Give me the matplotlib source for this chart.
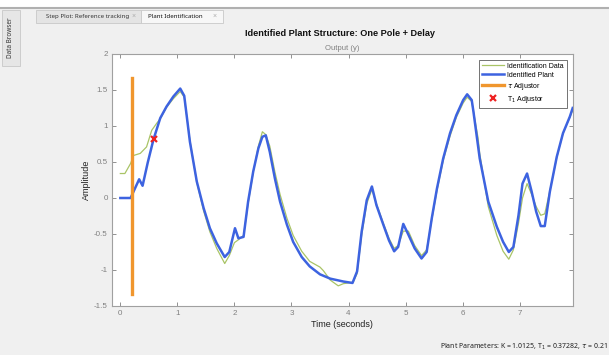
import matplotlib
matplotlib.use("Agg")
import matplotlib.pyplot as plt
from matplotlib.patches import Rectangle
from matplotlib.lines import Line2D

# identified plant response (one pole + delay)
t_plant = [0.0, 0.18, 0.33, 0.39, 0.48, 0.58, 0.70, 0.81, 0.93, 1.05, 1.12, 1.22, 1.34, 1.46,
           1.57, 1.69, 1.83, 1.91, 2.01, 2.07, 2.16, 2.24, 2.33, 2.42, 2.49, 2.55, 2.62, 2.71,
           2.80, 2.92, 3.03, 3.18, 3.32, 3.50, 3.68, 3.91, 4.07, 4.15, 4.23, 4.32, 4.41, 4.49,
           4.61, 4.71, 4.80, 4.87, 4.96, 5.05, 5.16, 5.28, 5.37, 5.46, 5.55, 5.66, 5.78, 5.89,
           6.01, 6.08, 6.16, 6.19, 6.30, 6.45, 6.60, 6.71, 6.81, 6.89, 6.98, 7.05, 7.13, 7.21,
           7.29, 7.37, 7.44, 7.53, 7.65, 7.76, 7.88, 7.93]
y_plant = [0.0, 0.0, 0.26, 0.17, 0.49, 0.81, 1.11, 1.27, 1.41, 1.52, 1.42, 0.78, 0.23, -0.14,
           -0.42, -0.63, -0.82, -0.75, -0.42, -0.56, -0.54, -0.05, 0.37, 0.69, 0.85, 0.87, 0.64, 0.27,
           -0.05, -0.37, -0.61, -0.82, -0.95, -1.06, -1.12, -1.16, -1.18, -1.02, -0.47, -0.03, 0.16, -0.10,
           -0.37, -0.59, -0.74, -0.68, -0.36, -0.51, -0.70, -0.84, -0.75, -0.28, 0.13, 0.55, 0.90, 1.15,
           1.36, 1.44, 1.36, 1.20, 0.55, -0.05, -0.40, -0.61, -0.75, -0.68, -0.24, 0.20, 0.34, 0.09,
           -0.19, -0.39, -0.39, 0.09, 0.57, 0.90, 1.13, 1.25]

# measured identification data
t_data = [0.0, 0.08, 0.18, 0.23, 0.35, 0.46, 0.55, 0.64, 0.70, 0.81, 0.93, 1.05, 1.12, 1.22,
          1.34, 1.46, 1.57, 1.69, 1.83, 1.91, 2.00, 2.07, 2.16, 2.24, 2.33, 2.42, 2.49, 2.55,
          2.62, 2.71, 2.80, 2.92, 3.03, 3.18, 3.32, 3.50, 3.56, 3.68, 3.82, 3.91, 4.08, 4.15,
          4.23, 4.32, 4.41, 4.49, 4.61, 4.71, 4.80, 4.87, 4.96, 5.05, 5.16, 5.28, 5.37, 5.46,
          5.55, 5.66, 5.78, 5.89, 6.01, 6.08, 6.16, 6.27, 6.30, 6.45, 6.60, 6.71, 6.81, 6.89,
          6.98, 7.05, 7.13, 7.21, 7.29, 7.37, 7.44, 7.53, 7.65, 7.76, 7.88, 7.93]
y_data = [0.34, 0.34, 0.48, 0.59, 0.62, 0.71, 0.94, 1.04, 1.10, 1.26, 1.38, 1.48, 1.40, 0.80,
          0.22, -0.18, -0.47, -0.70, -0.91, -0.80, -0.62, -0.58, -0.52, -0.08, 0.36, 0.72, 0.92, 0.88,
          0.72, 0.36, 0.05, -0.28, -0.52, -0.74, -0.88, -0.96, -1.01, -1.14, -1.22, -1.19, -1.17, -1.05,
          -0.52, -0.08, 0.12, -0.08, -0.35, -0.56, -0.70, -0.66, -0.46, -0.46, -0.66, -0.80, -0.72, -0.30,
          0.10, 0.52, 0.86, 1.12, 1.32, 1.40, 1.34, 0.84, 0.62, -0.12, -0.52, -0.74, -0.85, -0.72,
          -0.35, 0.0, 0.20, 0.05, -0.12, -0.24, -0.22, 0.10, 0.56, 0.90, 1.12, 1.22]

K = 1.0125
T1 = 0.37282
tau = 0.21
tau_span = [-1.34, 1.67]
t1_point = 0.82

plt.rcParams['font.family'] = ['Liberation Sans', 'DejaVu Sans']
grey = '#808080'
ui_font = ['Noto Sans', 'DejaVu Sans']

fig = plt.figure(figsize=(6.09, 3.55), dpi=100, facecolor='#f0f0f0')

# toolbar strip and tabs
fig.patches.append(Rectangle((0, 1 - 8 / 355), 1, 8 / 355, transform=fig.transFigure,
                             facecolor='white', edgecolor='none'))
fig.add_artist(Line2D([0, 1], [1 - 8 / 355] * 2, color='#b0b0b0', lw=1.5))
fig.patches.append(Rectangle((2 / 609, 1 - 66 / 355), 18 / 609, 56 / 355, transform=fig.transFigure,
                             facecolor='#e6e6e6', edgecolor='#c8c8c8', lw=0.6))
fig.text(11 / 609, 1 - 38 / 355, 'Data Browser', rotation=90, fontsize=4.6,
         ha='center', va='center', color='#333333', family=ui_font)
fig.patches.append(Rectangle((36 / 609, 1 - 23 / 355), 105 / 609, 13 / 355, transform=fig.transFigure,
                             facecolor='#e4e4e4', edgecolor='#c8c8c8', lw=0.6))
fig.patches.append(Rectangle((141 / 609, 1 - 23 / 355), 82 / 609, 13 / 355, transform=fig.transFigure,
                             facecolor='#f7f7f7', edgecolor='#c8c8c8', lw=0.6))
fig.text(46 / 609, 1 - 16.5 / 355, 'Step Plot: Reference tracking', fontsize=4.4, va='center',
         color='#333333', family=ui_font)
fig.text(132 / 609, 1 - 16.5 / 355, '\u00d7', fontsize=5, va='center', color='#aaaaaa')
fig.text(148 / 609, 1 - 16.5 / 355, 'Plant Identification', fontsize=4.4, va='center',
         color='#111111', family=ui_font)
fig.text(213 / 609, 1 - 16.5 / 355, '\u00d7', fontsize=5, va='center', color='#aaaaaa')

ax = fig.add_axes([112 / 609, 1 - 306 / 355, 460.7 / 609, 252 / 355])
ax.plot(t_data, y_data, color='#a9c466', lw=0.9, label='Identification Data', zorder=2)
ax.plot(t_plant, y_plant, color='#3d63e0', lw=1.8, label='Identified Plant', zorder=3)
ax.plot([tau, tau], tau_span, color='#f0962e', lw=2.4, label=r'$\tau$ Adjustor', zorder=4)
ax.plot([tau + T1], [t1_point], ls='none', marker='x', color='#ee2222', ms=4.5, mew=1.6,
        label=r'T$_1$ Adjustor', zorder=5)

ax.set_xlim(-0.146, 7.93)
ax.set_ylim(-1.5, 2)
ax.set_xticks(range(0, 8))
ax.set_yticks([-1.5, -1, -0.5, 0, 0.5, 1, 1.5, 2])
ax.set_yticklabels(['-1.5', '-1', '-0.5', '0', '0.5', '1', '1.5', '2'])
ax.tick_params(direction='in', length=3, width=0.6, color=grey, labelcolor=grey,
               labelsize=5.8, top=True, right=True, pad=3)
for s in ax.spines.values():
    s.set_color('#a0a0a0')
    s.set_linewidth(0.8)

ax.set_xlabel('Time (seconds)', fontsize=6.5, color='#222222', labelpad=2)
ax.set_ylabel('Amplitude', fontsize=6.5, color='#222222', labelpad=2)
ax.set_title('Output (y)', fontsize=5.5, color=grey, pad=3)
fig.text(340 / 609, 1 - 33 / 355, 'Identified Plant Structure: One Pole + Delay',
         fontsize=6.6, weight='bold', ha='center', va='center', color='#111111')

leg = ax.legend(loc='upper right', fontsize=5, frameon=True, fancybox=False,
                edgecolor='#333333', handlelength=3.2, borderpad=0.45, labelspacing=0.3,
                handletextpad=0.5, borderaxespad=0.8)
leg.get_frame().set_linewidth(0.6)

fig.text(440 / 609, 1 - 347 / 355,
         r'Plant Parameters: K = %g, T$_1$ = %g, $\tau$ = %g' % (K, T1, tau),
         fontsize=5.0, va='center', color='#222222', family=ui_font)

fig.savefig('out.png', dpi=100, facecolor=fig.get_facecolor())
